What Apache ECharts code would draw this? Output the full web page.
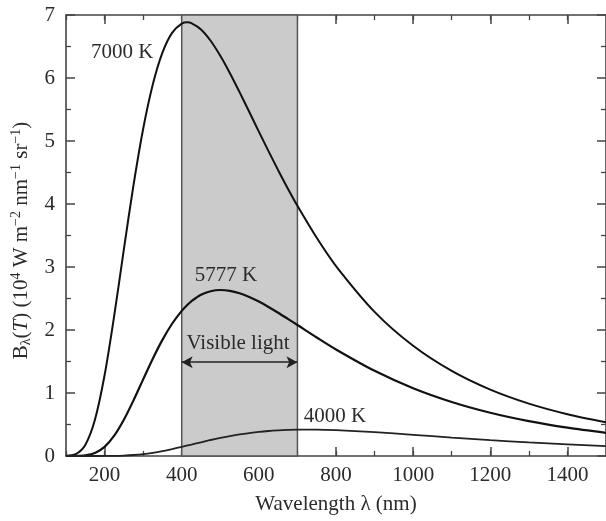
<!DOCTYPE html>
<html>
<head>
<meta charset="utf-8">
<script src="https://cdn.jsdelivr.net/npm/echarts@6/dist/echarts.min.js"></script>
<style>html,body{margin:0;padding:0;background:#fff}#c{width:606px;height:521px}</style>
</head>
<body>
<div id="c"></div>
<script>
// Wavelength samples (nm) and spectral radiance (10^4 W m^-2 nm^-1 sr^-1)
var wavelengths = [100,125,150,175,200,225,250,275,300,325,350,375,400,415,425,450,475,500,525,550,575,600,625,650,675,700,750,800,900,1000,1100,1200,1300,1400,1500];
var b7000 = [0.001,0.028,0.176,0.575,1.281,2.227,3.279,4.300,5.191,5.897,6.403,6.717,6.863,6.883,6.872,6.771,6.591,6.352,6.076,5.775,5.464,5.149,4.839,4.537,4.247,3.971,3.463,3.015,2.288,1.749,1.350,1.053,0.831,0.663,0.534];
var b5777 = [0,0.001,0.010,0.048,0.145,0.322,0.575,0.883,1.216,1.544,1.843,2.099,2.303,2.401,2.456,2.558,2.616,2.635,2.622,2.583,2.524,2.451,2.366,2.274,2.177,2.079,1.881,1.691,1.352,1.076,0.858,0.687,0.554,0.450,0.368];
var b4000 = [0,0,0,0,0.001,0.002,0.007,0.016,0.030,0.051,0.078,0.110,0.145,0.167,0.181,0.218,0.254,0.287,0.316,0.342,0.364,0.383,0.397,0.407,0.414,0.418,0.418,0.410,0.378,0.336,0.292,0.251,0.215,0.184,0.157];
var xTickLabels = [200,400,600,800,1000,1200,1400];
var visibleBand = [400,700];
var curveLabels = [
  {name:'7000 K', at:[246,6.40]},
  {name:'5777 K', at:[515,2.86]},
  {name:'4000 K', at:[797,0.63]},
  {name:'Visible light', at:[546,1.79]}
];
var arrowY = 1.49;

var FONT = 'Liberation Serif';
var FS = 21;
var TXT = '#2b2b2b';
var AX = '#444';
function zip(v){ return wavelengths.map(function(w,i){ return [w, v[i]]; }); }

var chart = echarts.init(document.getElementById('c'), null, {renderer:'canvas'});
var axisLine = {show:true, lineStyle:{color:AX, width:1.6}};
function plain(v){ return String(v); }
function xMajor(pos, labels){
  return {type:'value', position:pos, min:100, max:1500, axisLine:axisLine,
    axisTick:{show:true, inside:true, length:9, customValues:xTickLabels, lineStyle:{color:AX,width:1.5}},
    axisLabel:{show:labels, customValues:xTickLabels, formatter:plain, margin:9, fontFamily:FONT, fontSize:FS, color:TXT},
    splitLine:{show:false},
    name: labels ? 'Wavelength λ (nm)' : '', nameLocation:'middle', nameGap:38,
    nameTextStyle:{fontFamily:FONT, fontSize:FS, color:TXT}};
}
function xMinor(pos){
  return {type:'value', position:pos, min:100, max:1500, interval:100, axisLine:{show:false},
    axisTick:{show:true, inside:true, length:5, lineStyle:{color:AX,width:1.3}},
    axisLabel:{show:false}, splitLine:{show:false}};
}
function yAx(pos, labels){
  return {type:'value', position:pos, min:0, max:7, interval:1, axisLine:axisLine,
    axisTick:{show:true, inside:true, length:9, lineStyle:{color:AX,width:1.5}},
    minorTick:{show:true, splitNumber:2, length:5, lineStyle:{color:AX,width:1.3}},
    axisLabel:{show:labels, formatter:plain, margin:11, fontFamily:FONT, fontSize:FS, color:TXT},
    splitLine:{show:false},
    name: labels ? '{n|B}{sub|λ}{n|(}{i|T}{n|) (10}{sup|4}{n| W m}{sup|−2}{n| nm}{sup|−1}{n| sr}{sup|−1}{n|)}' : '',
    nameLocation:'middle', nameGap:26,
    nameTextStyle:{fontFamily:FONT, fontSize:FS, color:TXT, padding:[0,10,0,0],
      rich:{
        n:{fontFamily:FONT, fontSize:FS, color:TXT},
        i:{fontFamily:FONT, fontSize:FS, color:TXT, fontStyle:'italic'},
        sup:{fontFamily:FONT, fontSize:14, color:TXT, verticalAlign:'top', lineHeight:24},
        sub:{fontFamily:FONT, fontSize:14, color:TXT, verticalAlign:'bottom', lineHeight:24}
      }}};
}

var option = {
  animation:false,
  backgroundColor:'#fff',
  grid:{left:66, right:-6, top:15, bottom:65, containLabel:false},
  xAxis:[xMajor('bottom', true), xMinor('bottom'), xMajor('top', false), xMinor('top')],
  yAxis:[yAx('left', true), yAx('right', false)],
  series:[
    {type:'line', data:[], z:1, silent:true,
      markArea:{silent:true, itemStyle:{color:'#cbcbcb', borderColor:'#555', borderWidth:1.5},
        data:[[{xAxis:visibleBand[0]},{xAxis:visibleBand[1]}]]},
      markLine:{silent:true, symbol:['arrow','arrow'], symbolSize:[9,11],
        lineStyle:{color:'#222', width:1.5, type:'solid'}, label:{show:false},
        data:[[{coord:[visibleBand[0], arrowY]},{coord:[visibleBand[1], arrowY]}]]},
      markPoint:{silent:true, symbol:'circle', symbolSize:0,
        label:{show:true, position:'inside', formatter:function(p){return p.name;},
          fontFamily:FONT, fontSize:FS, color:TXT},
        data:curveLabels.map(function(c){ return {name:c.name, coord:c.at}; })}
    },
    {name:'7000 K', type:'line', data:zip(b7000), smooth:0.3, showSymbol:false, z:3,
      lineStyle:{color:'#111', width:2}},
    {name:'5777 K', type:'line', data:zip(b5777), smooth:0.3, showSymbol:false, z:3,
      lineStyle:{color:'#111', width:2.2}},
    {name:'4000 K', type:'line', data:zip(b4000), smooth:0.3, showSymbol:false, z:3,
      lineStyle:{color:'#222', width:1.8}}
  ]
};
chart.setOption(option);
</script>
</body>
</html>
